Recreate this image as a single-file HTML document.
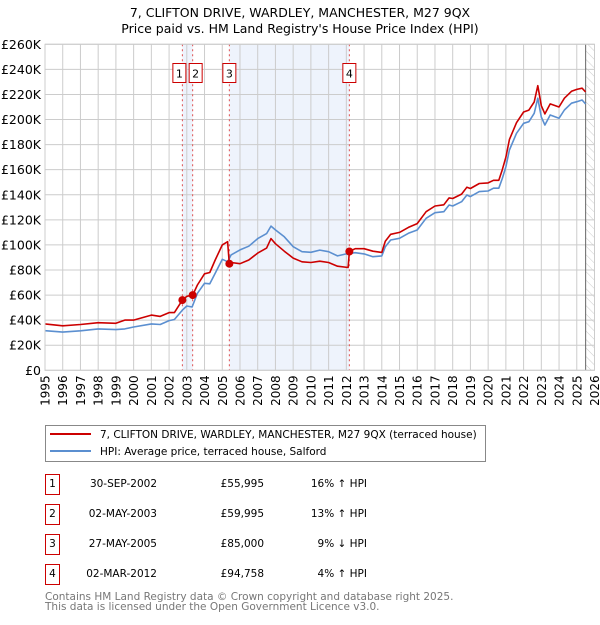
<!DOCTYPE html>
<html><head><meta charset="utf-8"><style>
body{margin:0;background:#fff;font-family:"Liberation Sans","DejaVu Sans",sans-serif;}
svg text{font-family:"DejaVu Sans","Liberation Sans",sans-serif;}
</style></head><body>
<svg id="c" width="600" height="620" xmlns="http://www.w3.org/2000/svg">
<defs><pattern id="hatch" width="6" height="6" patternUnits="userSpaceOnUse" patternTransform="rotate(-45)"><line x1="0" y1="0" x2="0" y2="6" stroke="#ccc" stroke-width="1"/></pattern></defs>
<text x="300" y="17" text-anchor="middle" font-size="12.5">7, CLIFTON DRIVE, WARDLEY, MANCHESTER, M27 9QX</text>
<text x="300" y="33" text-anchor="middle" font-size="12.5">Price paid vs. HM Land Registry's House Price Index (HPI)</text>
<g id="plot"></g>
<g>
<rect x="45.5" y="425.5" width="440" height="36" fill="#fff" stroke="#888"/>
<line x1="50" y1="434" x2="91" y2="434" stroke="#cc0000" stroke-width="2"/>
<text x="100" y="438" font-size="10.5">7, CLIFTON DRIVE, WARDLEY, MANCHESTER, M27 9QX (terraced house)</text>
<line x1="50" y1="451" x2="91" y2="451" stroke="#5b8fd0" stroke-width="2"/>
<text x="100" y="455" font-size="10.5">HPI: Average price, terraced house, Salford</text>
</g>
<g id="table" font-size="10.5"></g>
<text x="45" y="600" font-size="10.5" fill="#777">Contains HM Land Registry data © Crown copyright and database right 2025.</text>
<text x="45" y="610" font-size="10.5" fill="#777">This data is licensed under the Open Government Licence v3.0.</text>
</svg>
<script>
const hpiYears=[1995,1996,1997,1998,1999,1999.5,2000,2001,2001.5,2002,2002.3,2002.75,2003,2003.3,2003.6,2004,2004.3,2004.6,2005,2005.3,2005.5,2006,2006.5,2007,2007.5,2007.75,2008,2008.5,2009,2009.5,2010,2010.5,2011,2011.5,2012,2012.5,2013,2013.5,2014,2014.2,2014.5,2015,2015.5,2016,2016.5,2017,2017.5,2017.8,2018,2018.5,2018.8,2019,2019.5,2020,2020.3,2020.6,2020.8,2021,2021.2,2021.6,2022,2022.3,2022.6,2022.8,2023,2023.2,2023.5,2024,2024.3,2024.7,2025,2025.3,2025.5];
const hpiValues=[31.6,30.5,31.5,33,32.5,33,34.5,37,36.5,39.6,40.5,48,51.3,50.5,61.4,69.4,69,77.4,88.5,86.6,92,96,99,105,109,115,112,106.5,98.6,94.6,94.1,95.9,94.6,91.2,92.8,93.8,92.8,90.6,91.2,98.6,103.9,105.3,109.3,111.9,121.2,125.7,126.5,131.8,131,134.5,139.8,138.5,142.5,143,145.2,145.2,153,162.4,175.7,189,197,198.3,205,217,202,195.6,203.6,201,207.6,213,214.2,215.6,212.4];
const priceYears=[1995,1996,1997,1998,1999,1999.5,2000,2001,2001.5,2002,2002.3,2002.75,2003,2003.33,2003.6,2004,2004.3,2004.6,2005,2005.3,2005.4,2005.5,2006,2006.5,2007,2007.5,2007.75,2008,2008.5,2009,2009.5,2010,2010.5,2011,2011.5,2012.1,2012.17,2012.5,2013,2013.5,2014,2014.2,2014.5,2015,2015.5,2016,2016.5,2017,2017.5,2017.8,2018,2018.5,2018.8,2019,2019.5,2020,2020.3,2020.6,2020.8,2021,2021.2,2021.6,2022,2022.3,2022.6,2022.8,2023,2023.2,2023.5,2024,2024.3,2024.7,2025,2025.3,2025.5];
const priceValues=[37,35.5,36.5,38,37.5,40,40,44,43,46,46,56,59,60,68,77,78,88,100,102.6,85,86,85,88,93.5,97.5,105,101,95,89.5,86.5,86,87,86,83,82,94.8,97,97,95,94,103,108.5,110,114,117,126.5,131,132,137.5,137,140.5,146,145,149,149.5,151.5,151.5,160,170,184,197.5,206,207.5,214,227,211,204.5,212.5,210,217,222.5,224,225,222];
const saleYears=[2002.75,2003.33,2005.4,2012.17];
const saleValues=[55.995,59.995,85,94.758];
const saleLabels=["1","2","3","4"];
const saleDates=["30-SEP-2002","02-MAY-2003","27-MAY-2005","02-MAR-2012"];
const salePrices=["£55,995","£59,995","£85,000","£94,758"];
const saleHpi=["16% ↑ HPI","13% ↑ HPI","9% ↓ HPI","4% ↑ HPI"];
const yTicks=[0,20,40,60,80,100,120,140,160,180,200,220,240,260];
const xTicks=[1995,1996,1997,1998,1999,2000,2001,2002,2003,2004,2005,2006,2007,2008,2009,2010,2011,2012,2013,2014,2015,2016,2017,2018,2019,2020,2021,2022,2023,2024,2025,2026];

const NS="http://www.w3.org/2000/svg";
const X0=45,X1=594.5,Y0=370.3,Y1=44.3;
const xs=v=>X0+(v-1995)/(2026-1995)*(X1-X0);
const ys=v=>Y0-v/260*(Y0-Y1);
const plot=document.getElementById('plot');
function mk(tag,attrs,parent){const e=document.createElementNS(NS,tag);for(const k in attrs)e.setAttribute(k,attrs[k]);(parent||plot).appendChild(e);return e;}

let s=mk('rect',{x:xs(saleYears[0]),y:Y1,width:xs(saleYears[1])-xs(saleYears[0]),height:Y0-Y1,fill:'#eef3fc'});


s=mk('rect',{x:xs(saleYears[2]),y:Y1,width:xs(saleYears[3])-xs(saleYears[2]),height:Y0-Y1,fill:'#eef3fc'});


s=mk('rect',{x:xs(2025.5),y:Y1,width:X1-xs(2025.5),height:Y0-Y1,fill:'url(#hatch)'});



yTicks.forEach(t=>{
  const l=mk('line',{x1:X0,x2:X1,y1:ys(t),y2:ys(t),stroke:'#cccccc','stroke-width':1});
  
  
  const tx=mk('text',{x:X0-4,y:ys(t)+4.5,'text-anchor':'end','font-size':'12.5'});
  tx.textContent='£'+(t===0?'0':t+'K');
  
  
});
xTicks.forEach(t=>{
  const l=mk('line',{x1:xs(t),x2:xs(t),y1:Y1,y2:Y0,stroke:'#cccccc','stroke-width':1});
  
  
  const tx=mk('text',{x:0,y:0,'text-anchor':'end','font-size':'12',transform:`translate(${xs(t)+4.5},${Y0+5}) rotate(-90)`});
  tx.textContent=t;
  
  
});
s=mk('line',{x1:xs(2025.5),x2:xs(2025.5),y1:Y1,y2:Y0,stroke:'#666','stroke-width':1});



saleYears.forEach((y,i)=>{
  const l=mk('line',{x1:xs(y),x2:xs(y),y1:Y1,y2:Y0,stroke:'#e05050','stroke-width':1,'stroke-dasharray':'2,3'});
  
  
});
function line(xa,va,col,name){
  const d=xa.map((x,i)=>(i?'L':'M')+xs(x).toFixed(1)+','+ys(va[i]).toFixed(1)).join('');
  const p=mk('path',{d:d,fill:'none',stroke:col,'stroke-width':1.6,'stroke-linejoin':'round'});
  
  
}
line(hpiYears,hpiValues,'#5b8fd0','hpi-line');
line(priceYears,priceValues,'#cc0000','price-paid-line');
saleYears.forEach((y,i)=>{
  const c=mk('circle',{cx:xs(y),cy:ys(saleValues[i]),r:4,fill:'#cc0000'});
  
  
});
saleYears.forEach((y,i)=>{
  let bx=xs(y)-7; if(i===0) bx=xs(y)-10; if(i===1) bx=xs(y)-4;
  const g=mk('g',{});
  
  
  mk('rect',{x:bx+0.5,y:63.5,width:13,height:19,fill:'#fff',stroke:'#cc0000'},g);
  const t=mk('text',{x:bx+7,y:77.5,'text-anchor':'middle','font-size':'11'},g);
  t.textContent=saleLabels[i];
});
s=mk('rect',{x:X0,y:Y1,width:X1-X0,height:Y0-Y1,fill:'none',stroke:'#cccccc'});



const tb=document.getElementById('table');
saleLabels.forEach((lab,i)=>{
  const yy=483+i*30;
  const g=mk('g',{},tb);
  
  
  mk('rect',{x:45.5,y:yy-8.5,width:14,height:20,fill:'none',stroke:'#cc0000'},g);
  let t=mk('text',{x:52.5,y:yy+4,'text-anchor':'middle'},g);t.textContent=lab;
  t=mk('text',{x:157,y:yy+4,'text-anchor':'end'},g);t.textContent=saleDates[i];
  t=mk('text',{x:264,y:yy+4,'text-anchor':'end'},g);t.textContent=salePrices[i];
  t=mk('text',{x:367,y:yy+4,'text-anchor':'end'},g);t.textContent=saleHpi[i];
});
</script>
</body></html>
